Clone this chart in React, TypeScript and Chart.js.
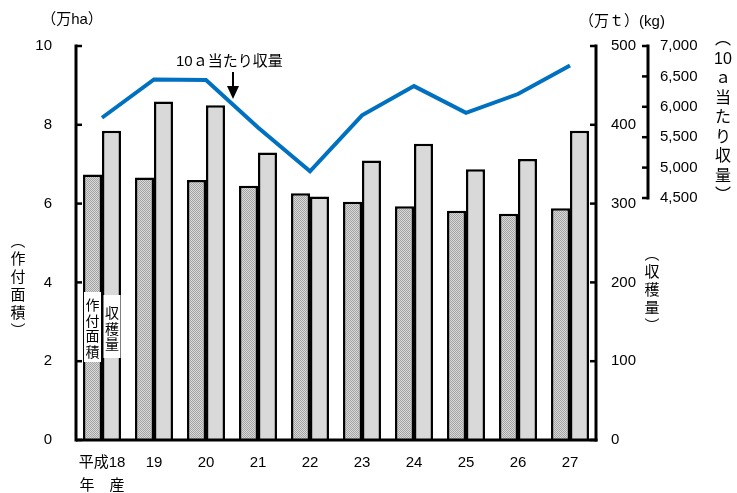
import React, { useEffect, useRef } from "react";
import { Chart, registerables } from "chart.js";

Chart.register(...registerables);

const categories: (string | string[])[] = [["平成18", "年　産"], "19", "20", "21", "22", "23", "24", "25", "26", "27"];
const areaValues = [6.74, 6.66, 6.60, 6.45, 6.26, 6.05, 5.93, 5.82, 5.74, 5.88]; // 万ha
const productionValues = [392.3, 429.7, 424.8, 364.9, 309.0, 354.7, 375.8, 343.5, 356.7, 392.5]; // 万t
const yieldValues = [5820, 6450, 6440, 5660, 4940, 5860, 6340, 5900, 6210, 6680]; // kg/10a
const yieldTicks = [4500, 5000, 5500, 6000, 6500, 7000];
const yieldTickLabels = ["4,500", "5,000", "5,500", "6,000", "6,500", "7,000"];

const FONT = 'Liberation Sans, "Noto Sans CJK JP", sans-serif';
const JFONT = '"Noto Sans CJK JP", sans-serif';

function makePattern(): CanvasPattern | string {
  const c = document.createElement("canvas");
  c.width = 4;
  c.height = 4;
  const g = c.getContext("2d");
  if (!g) return "#bdbdbd";
  g.fillStyle = "#dadada";
  g.fillRect(0, 0, 4, 4);
  g.fillStyle = "#a2a2a2";
  for (let i = 0; i < 4; i++) {
    g.fillRect(i, i % 4, 1, 1);
    g.fillRect(i, (i + 2) % 4, 1, 1);
  }
  return g.createPattern(c, "repeat") || "#bdbdbd";
}

function vText(ctx: CanvasRenderingContext2D, chars: string[], x: number, y0: number, step: number) {
  chars.forEach((ch, i) => ctx.fillText(ch, x, y0 + i * step));
}

const overlay = {
  id: "overlay",
  afterDraw(chart: any) {
    const { ctx, chartArea: ca, scales } = chart;
    const ys = scales.y, y1 = scales.y1, y2 = scales.y2;
    ctx.save();
    ctx.strokeStyle = "#000";
    ctx.fillStyle = "#000";
    ctx.lineWidth = 3;
    const ln = (a: number, b: number, c: number, d: number) => {
      ctx.beginPath();
      ctx.moveTo(a, b);
      ctx.lineTo(c, d);
      ctx.stroke();
    };
    // axis lines
    ln(ca.left, ca.top - 1.5, ca.left, ca.bottom + 1.5);
    ln(ca.right, ca.top - 1.5, ca.right, ca.bottom + 1.5);
    ln(ca.left, ca.bottom, ca.right + 1.5, ca.bottom);
    const yx = y2.left;
    const yTop = y2.getPixelForValue(7000);
    const yBot = y2.getPixelForValue(4500);
    ln(yx, yTop - 1.5, yx, yBot + 1.5);
    // tick marks
    ctx.lineWidth = 2.5;
    ys.ticks.forEach((t: any) => {
      const p = ys.getPixelForValue(t.value);
      ln(ca.left, p, ca.left + 6, p);
    });
    y1.ticks.forEach((t: any) => {
      const p = y1.getPixelForValue(t.value);
      ln(ca.right - 6, p, ca.right, p);
    });
    yieldTicks.forEach((v) => {
      const p = y2.getPixelForValue(v);
      ln(yx - 6, p, yx, p);
    });

    // titles
    ctx.textAlign = "center";
    ctx.textBaseline = "middle";
    ctx.font = `15px ${FONT}`;
    ctx.fillText("（万ha）", 72, 20);
    ctx.fillText("（万ｔ）(kg)", 622, 22);
    ctx.font = `15px ${JFONT}`;
    vText(ctx, ["︵", "作", "付", "面", "積", "︶"], 18, 240, 18);
    vText(ctx, ["︵", "収", "穫", "量", "︶"], 652, 253, 18);
    ctx.font = `16px ${FONT}`;
    vText(ctx, ["︵", "10", "ａ", "当", "た", "り", "収", "量", "︶"], 723, 40, 19.5);

    // annotation
    ctx.font = `15px ${FONT}`;
    ctx.textAlign = "left";
    ctx.fillText("10ａ当たり収量", 176, 62);
    ctx.lineWidth = 2;
    ln(233, 72, 233, 88);
    ctx.beginPath();
    ctx.moveTo(227, 86);
    ctx.lineTo(239, 86);
    ctx.lineTo(233, 99);
    ctx.closePath();
    ctx.fill();

    // in-bar labels
    const b0 = chart.getDatasetMeta(0).data[0];
    const b1 = chart.getDatasetMeta(1).data[0];
    ctx.fillStyle = "#fff";
    ctx.fillRect(b0.x - 8.5, 292, 17, 70);
    ctx.fillRect(b1.x - 8, 295, 17, 63);
    ctx.fillStyle = "#000";
    ctx.textAlign = "center";
    ctx.font = `14px ${JFONT}`;
    vText(ctx, ["作", "付", "面", "積"], b0.x, 305, 15.5);
    vText(ctx, ["収", "穫", "量"], b1.x + 0.5, 313, 15.5);
    ctx.restore();
  },
};

export default function App() {
  const ref = useRef<HTMLCanvasElement>(null);
  useEffect(() => {
    document.body.style.margin = "0";
    if (!ref.current) return;
    const pattern = makePattern();
    const tickFont = { family: FONT, size: 15 };
    const chart = new Chart(ref.current, {
      data: {
        labels: categories as any,
        datasets: [
          {
            type: "bar",
            label: "作付面積",
            data: areaValues,
            yAxisID: "y",
            backgroundColor: pattern as any,
            borderColor: "#000",
            borderWidth: 2.5,
            categoryPercentage: 0.73,
            barPercentage: 1.0,
            order: 2,
          },
          {
            type: "bar",
            label: "収穫量",
            data: productionValues,
            yAxisID: "y1",
            backgroundColor: "#d9d9d9",
            borderColor: "#000",
            borderWidth: 2.5,
            categoryPercentage: 0.73,
            barPercentage: 1.0,
            order: 2,
          },
          {
            type: "line",
            label: "10ａ当たり収量",
            data: yieldValues,
            yAxisID: "y2",
            borderColor: "#0070C0",
            borderWidth: 4,
            pointRadius: 0,
            tension: 0,
            fill: false,
            order: 1,
          },
        ],
      } as any,
      options: {
        animation: false,
        responsive: false,
        maintainAspectRatio: false,
        layout: { padding: { top: 46, left: 0, right: 0, bottom: 0 } },
        plugins: { legend: { display: false }, tooltip: { enabled: false } },
        scales: {
          x: {
            grid: { display: false, drawTicks: false },
            border: { display: false },
            ticks: { color: "#000", font: { ...tickFont, lineHeight: 1.55 }, padding: 11, maxRotation: 0, autoSkip: false },
            afterFit: (s: any) => {
              s.height = 53;
            },
          },
          y: {
            position: "left",
            min: 0,
            max: 10,
            grid: { display: false, drawTicks: false },
            border: { display: false },
            ticks: { stepSize: 2, color: "#000", font: tickFont, padding: 24 },
            afterFit: (s: any) => {
              s.width = 76;
            },
          },
          y1: {
            position: "right",
            min: 0,
            max: 500,
            grid: { display: false, drawTicks: false },
            border: { display: false },
            ticks: { stepSize: 100, color: "#000", font: tickFont, padding: 15 },
            afterFit: (s: any) => {
              s.width = 52;
            },
          },
          y2: {
            position: "right",
            min: 520,
            max: 7000,
            grid: { display: false, drawTicks: false },
            border: { display: false },
            afterBuildTicks: (s: any) => {
              s.ticks = yieldTicks.map((v) => ({ value: v }));
            },
            ticks: {
              color: "#000",
              font: tickFont,
              padding: 12,
              callback: (v: any) => {
                const i = yieldTicks.indexOf(Number(v));
                return i >= 0 ? yieldTickLabels[i] : "";
              },
            },
            afterFit: (s: any) => {
              s.width = 89;
            },
          },
        },
      } as any,
      plugins: [overlay],
    });
    return () => chart.destroy();
  }, []);
  return (
    <div style={{ width: 737, height: 493 }}>
      <canvas ref={ref} width={737} height={493} style={{ display: "block" }} />
    </div>
  );
}
